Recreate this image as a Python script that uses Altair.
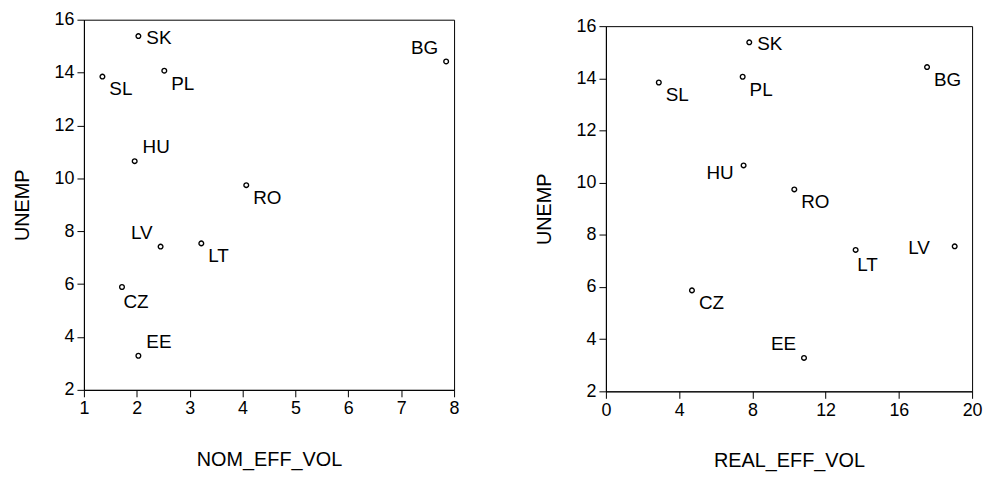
import altair as alt
import pandas as pd

countries = ["SK", "BG", "SL", "PL", "HU", "RO", "LV", "LT", "CZ", "EE"]

# Left panel: UNEMP vs NOM_EFF_VOL
nom_eff_vol = [2.03, 7.85, 1.35, 2.52, 1.96, 4.07, 2.45, 3.22, 1.72, 2.03]
unemp_nom = [15.38, 14.42, 13.85, 14.07, 10.65, 9.74, 7.42, 7.54, 5.89, 3.29]
nom_label_pos = ["E", "NW", "SE", "SE", "NE", "SE", "NW", "SE", "S", "NE"]

# Right panel: UNEMP vs REAL_EFF_VOL
real_eff_vol = [7.83, 17.54, 2.89, 7.47, 7.52, 10.29, 19.05, 13.64, 4.70, 10.82]
unemp_real = [15.38, 14.43, 13.84, 14.06, 10.66, 9.74, 7.56, 7.42, 5.87, 3.28]
real_label_pos = ["E", "SE", "SE", "SE", "SW", "SE", "W", "S", "SE", "NW"]

nom_ticks = [1, 2, 3, 4, 5, 6, 7, 8]
real_ticks = [0, 4, 8, 12, 16, 20]
unemp_ticks = [2, 4, 6, 8, 10, 12, 14, 16]

FONT = "Liberation Sans"

# label placement around the point: (align, dx, dy)
PLACEMENT = {
    "E": ("left", 8, 2),
    "SE": ("left", 7, 13),
    "S": ("left", 1.5, 15.5),
    "NE": ("left", 8, -14),
    "NW": ("right", -8, -14),
    "SW": ("right", -10, 8),
    "W": ("right", -25, 2),
}


def panel(xvals, yvals, pos, xtitle, xdomain, xticks, w, h):
    df = pd.DataFrame({"country": countries, "x": xvals, "y": yvals, "pos": pos})
    base = alt.Chart(df).encode(
        x=alt.X(
            "x:Q",
            title=xtitle,
            scale=alt.Scale(domain=xdomain, nice=False, zero=False),
            axis=alt.Axis(values=xticks, format="d", titlePadding=32),
        ),
        y=alt.Y(
            "y:Q",
            title="UNEMP",
            scale=alt.Scale(domain=[2, 16], nice=False, zero=False),
            axis=alt.Axis(values=unemp_ticks, format="d", titlePadding=22),
        ),
    )
    layers = [
        base.mark_point(
            shape="circle", filled=False, color="black", size=22, strokeWidth=1.4, opacity=1
        )
    ]
    for code, (align, dx, dy) in PLACEMENT.items():
        if code in pos:
            layers.append(
                base.transform_filter(alt.datum.pos == code)
                .mark_text(
                    align=align,
                    baseline="middle",
                    dx=dx,
                    dy=dy,
                    fontSize=19,
                    font=FONT,
                    color="black",
                )
                .encode(text="country:N")
            )
    return alt.layer(*layers).properties(width=w, height=h)


left = panel(nom_eff_vol, unemp_nom, nom_label_pos, "NOM_EFF_VOL", [1, 8], nom_ticks, 373, 373)
right = panel(
    real_eff_vol, unemp_real, real_label_pos, "REAL_EFF_VOL", [0, 20], real_ticks, 369, 368
)

# invisible spacer that pushes the right panel a few pixels lower
spacer = (
    alt.Chart(pd.DataFrame({"a": [0]}))
    .mark_rule(strokeOpacity=0, strokeWidth=0)
    .encode(x=alt.value(0), x2=alt.value(1), y=alt.value(0))
    .properties(width=1, height=1, view=alt.ViewBackground(strokeOpacity=0, strokeWidth=0))
)

right_col = alt.vconcat(spacer, right, spacing=-4.5)

chart = (
    alt.hconcat(left, right_col, spacing=74)
    .properties(padding={"left": 3.5, "top": 0, "right": 0, "bottom": 0}, background="white")
    .configure_view(stroke="black", strokeWidth=1)
    .configure_axis(
        grid=False,
        domainColor="black",
        domainWidth=1,
        tickColor="black",
        tickWidth=1,
        tickSize=7,
        labelPadding=3,
        labelFont=FONT,
        labelFontSize=18,
        labelColor="black",
        titleFont=FONT,
        titleFontSize=20,
        titleFontWeight="normal",
        titleColor="black",
        labelFlush=False,
        labelOverlap=False,
    )
)

chart.save("out.html", embed_options={"renderer": "svg", "actions": False})
